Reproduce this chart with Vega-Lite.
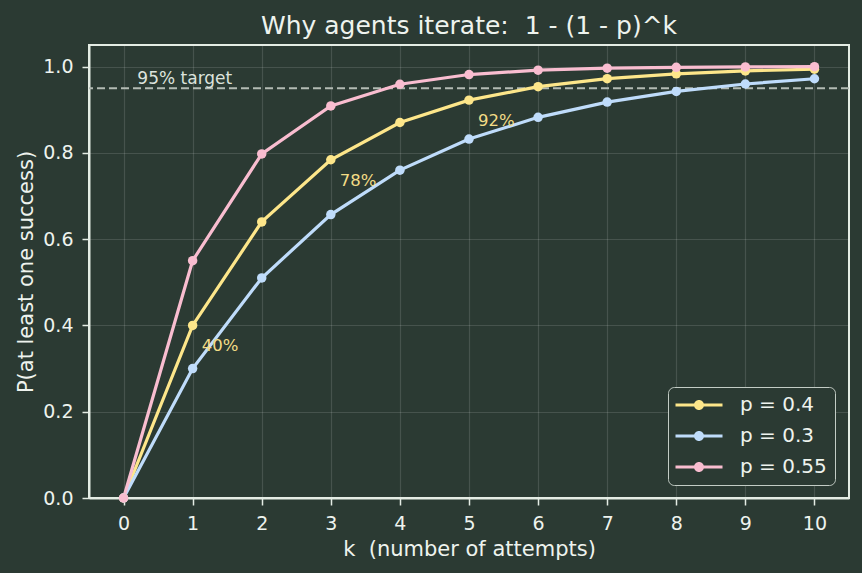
{
  "$schema": "https://vega.github.io/schema/vega-lite/v6.json",
  "width": 760,
  "height": 453,
  "autosize": {"type": "none"},
  "padding": {"left": 89, "top": 45, "right": 13, "bottom": 75},
  "background": "#2b3a33",
  "title": {"text": "Why agents iterate:\u00a0 1 - (1 - p)^k", "fontSize": 25, "font": "DejaVu Sans", "fontWeight": "normal", "color": "#eef3ee", "offset": 6},
  "datasets": {
    "curves": [
      {"k": 0, "p": "p = 0.4", "y": 0},
      {"k": 1, "p": "p = 0.4", "y": 0.4},
      {"k": 2, "p": "p = 0.4", "y": 0.64},
      {"k": 3, "p": "p = 0.4", "y": 0.784},
      {"k": 4, "p": "p = 0.4", "y": 0.8704},
      {"k": 5, "p": "p = 0.4", "y": 0.92224},
      {"k": 6, "p": "p = 0.4", "y": 0.953344},
      {"k": 7, "p": "p = 0.4", "y": 0.972006},
      {"k": 8, "p": "p = 0.4", "y": 0.983204},
      {"k": 9, "p": "p = 0.4", "y": 0.989922},
      {"k": 10, "p": "p = 0.4", "y": 0.993953},
      {"k": 0, "p": "p = 0.3", "y": 0},
      {"k": 1, "p": "p = 0.3", "y": 0.3},
      {"k": 2, "p": "p = 0.3", "y": 0.51},
      {"k": 3, "p": "p = 0.3", "y": 0.657},
      {"k": 4, "p": "p = 0.3", "y": 0.7599},
      {"k": 5, "p": "p = 0.3", "y": 0.83193},
      {"k": 6, "p": "p = 0.3", "y": 0.882351},
      {"k": 7, "p": "p = 0.3", "y": 0.917646},
      {"k": 8, "p": "p = 0.3", "y": 0.942352},
      {"k": 9, "p": "p = 0.3", "y": 0.959646},
      {"k": 10, "p": "p = 0.3", "y": 0.971752},
      {"k": 0, "p": "p = 0.55", "y": 0},
      {"k": 1, "p": "p = 0.55", "y": 0.55},
      {"k": 2, "p": "p = 0.55", "y": 0.7975},
      {"k": 3, "p": "p = 0.55", "y": 0.908875},
      {"k": 4, "p": "p = 0.55", "y": 0.958994},
      {"k": 5, "p": "p = 0.55", "y": 0.981547},
      {"k": 6, "p": "p = 0.55", "y": 0.991696},
      {"k": 7, "p": "p = 0.55", "y": 0.996263},
      {"k": 8, "p": "p = 0.55", "y": 0.998318},
      {"k": 9, "p": "p = 0.55", "y": 0.999243},
      {"k": 10, "p": "p = 0.55", "y": 0.999659}
    ],
    "labels": [
      {"k": 1, "y": 0.4, "text": "40%"},
      {"k": 3, "y": 0.784, "text": "78%"},
      {"k": 5, "y": 0.92224, "text": "92%"}
    ],
    "target": [{"k": 0.2, "y": 0.95, "text": "95% target"}]
  },
  "layer": [
    {
      "data": {"name": "target"},
      "mark": {"type": "rule", "strokeDash": [8, 4], "strokeWidth": 2, "color": "#b3bbb4"},
      "encoding": {
        "y": {"field": "y", "type": "quantitative", "scale": {"domain": [0, 1.05], "nice": false}}
      }
    },
    {
      "data": {"name": "target"},
      "mark": {"type": "text", "align": "left", "baseline": "alphabetic", "dy": -4, "fontSize": 17, "font": "DejaVu Sans", "color": "#dde3dd"},
      "encoding": {
        "x": {"field": "k", "type": "quantitative"},
        "y": {"field": "y", "type": "quantitative"},
        "text": {"field": "text"}
      }
    },
    {
      "data": {"name": "curves"},
      "mark": {"type": "line", "strokeWidth": 3.2, "point": {"filled": true, "size": 90, "opacity": 1}},
      "encoding": {
        "x": {"field": "k", "type": "quantitative",
          "scale": {"domain": [-0.5, 10.5], "nice": false, "zero": false},
          "axis": {"values": [0, 1, 2, 3, 4, 5, 6, 7, 8, 9, 10], "title": "k \u00a0(number of attempts)", "format": "d", "titlePadding": 5}},
        "y": {"field": "y", "type": "quantitative",
          "scale": {"domain": [0, 1.05], "nice": false},
          "axis": {"values": [0, 0.2, 0.4, 0.6, 0.8, 1.0], "format": ".1f", "title": "P(at least one success)", "titlePadding": 6}},
        "color": {"field": "p", "type": "nominal",
          "scale": {"domain": ["p = 0.4", "p = 0.3", "p = 0.55"], "range": ["#fde68a", "#bfdcfb", "#f9bdd0"]},
          "legend": {
            "title": null,
            "orient": "none",
            "legendX": 579,
            "legendY": 342,
            "symbolType": "M-2.35,-0.16L2.35,-0.16L2.35,0.16L-2.35,0.16Z M0.5,0A0.5,0.5 0 1,1 -0.5,0A0.5,0.5 0 1,1 0.5,0Z",
            "symbolSize": 400,
            "symbolStrokeWidth": 0,
            "symbolOffset": 13,
            "rowPadding": 11,
            "columnPadding": 0,
            "labelOffset": 31,
            "encode": {"symbols": {"update": {"fill": {"scale": "color", "field": "value"}, "strokeWidth": {"value": 0}}}}
          }
        },
        "order": {"field": "k"}
      }
    },
    {
      "data": {"name": "labels"},
      "mark": {"type": "text", "align": "left", "baseline": "middle", "dx": 9, "dy": 21, "fontSize": 16.5, "font": "DejaVu Sans", "color": "#f3dc86"},
      "encoding": {
        "x": {"field": "k", "type": "quantitative"},
        "y": {"field": "y", "type": "quantitative"},
        "text": {"field": "text"}
      }
    }
  ],
  "config": {
    "font": "DejaVu Sans",
    "view": {"stroke": "#e4ece4", "strokeWidth": 2},
    "axis": {
      "domainColor": "#e4ece4", "domainWidth": 2,
      "tickColor": "#e4ece4", "tickWidth": 1.5, "tickSize": 7,
      "labelColor": "#eef3ee", "labelFontSize": 19, "labelFont": "DejaVu Sans", "labelPadding": 9,
      "titleFont": "DejaVu Sans", "titleFontSize": 21, "titleFontWeight": "normal", "titleColor": "#eef3ee",
      "gridColor": "#ffffff", "gridOpacity": 0.13, "gridWidth": 1.2
    },
    "legend": {
      "labelFontSize": 20, "labelFont": "DejaVu Sans", "labelColor": "#eef3ee",
      "strokeColor": "#c3ccc5", "cornerRadius": 6, "fillColor": "#2b3a33", "padding": 8
    }
  }
}
